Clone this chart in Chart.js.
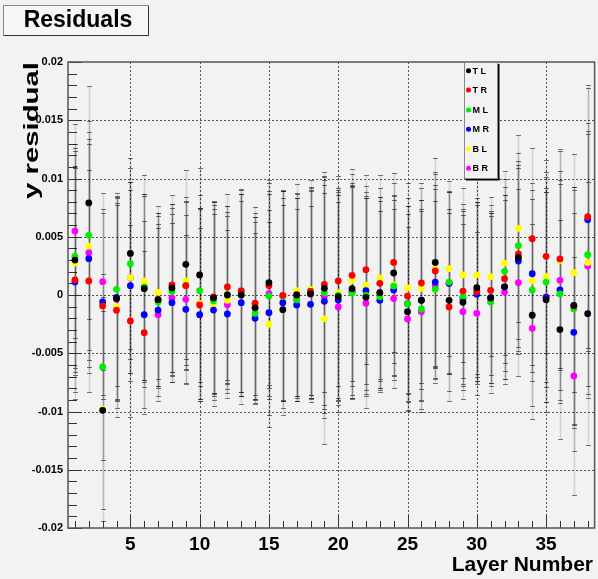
<!DOCTYPE html>
<html>
<head>
<meta charset="utf-8">
<script src="https://cdn.jsdelivr.net/npm/chart.js@4"></script>
<style>
  html, body { margin: 0; padding: 0; background: #f2f2f2; }
  #wrap { width: 598px; height: 579px; }
</style>
</head>
<body>
<div id="wrap"><canvas id="residChart" width="598" height="579"></canvas></div>
<script>
// layer numbers (x)
const layers = [1,2,3,4,5,6,7,8,9,10,11,12,13,14,15,16,17,18,19,20,21,22,23,24,25,26,27,28,29,30,31,32,33,34,35,36,37,38];

const seriesNames = ['T L', 'T R', 'M L', 'M R', 'B L', 'B R'];
const seriesColors = ['#000000', '#ff0000', '#00ee00', '#0000ff', '#ffff00', '#ff00ff'];

// y residuals, in units of 1e-3
const resTL = [3.0, 7.9, -9.9, -0.3, 3.57, 0.54, -0.4, 0.6, 2.63, 1.72, -0.25, 0.0, 0.0, -1.1, 1.06, -1.26, 0.0, 0.1, 0.57, -0.14, 0.54, -0.2, 0.2, 1.89, -1.43, -0.45, 2.8, -0.46, -0.63, 0.63, -0.25, 0.7, 3.2, -1.74, -0.4, -2.97, -0.9, -1.6];
const resTR = [1.29, 1.2, -0.94, -1.31, -2.23, -3.23, -0.37, 0.86, 0.8, -0.86, -0.17, 0.69, 0.35, -0.71, 0.8, -0.03, 0.03, 0.3, 0.91, 1.2, 1.69, 2.17, 1.0, 2.8, -0.09, 1.03, 2.06, -1.03, 0.34, 0.3, 0.4, 1.4, 3.52, 4.83, 3.32, 3.1, -0.94, 6.72];
const resML = [3.32, 5.12, -6.17, 0.49, 2.69, 0.7, -0.6, 0.29, 0.83, 0.37, -0.51, 0.03, 0.37, -1.57, -0.09, -0.1, -0.4, 0.34, 0.2, -0.03, 0.17, -0.03, -0.14, 0.77, -0.75, -1.2, 0.49, 1.11, -0.14, 0.29, -0.6, 2.03, 4.23, 0.43, 1.11, 0.09, -1.2, 3.46];
const resMR = [1.11, 3.12, -0.6, -0.2, 0.8, -1.69, -1.29, -0.66, -1.23, -1.69, -1.29, -1.63, -0.66, -2.0, -1.52, -0.66, -0.86, -0.8, -0.54, -0.43, 0.3, 0.37, -0.46, 0.43, -0.74, -0.46, 1.11, 1.0, -0.29, 0.06, -0.23, 0.69, 2.92, 1.83, -0.2, 0.43, -3.2, 6.46];
const resBL = [2.74, 4.2, -9.8, -1.0, 1.5, 1.2, 0.23, 0.57, 1.2, -0.7, -0.8, -0.46, 0.0, -0.75, -2.51, -0.1, 0.37, 0.49, -2.03, 0.17, 1.26, 0.86, 1.46, 0.86, 0.6, 0.57, 2.23, 2.26, 1.72, 1.72, 1.57, 2.74, 5.72, 1.2, 1.57, 2.97, 1.91, 2.8];
const resBR = [5.49, 3.63, 1.14, -0.37, 1.49, 0.69, -1.69, -0.26, -0.37, -0.71, -0.26, -0.83, 0.0, -1.11, 0.11, -0.09, -0.4, 0.06, -0.14, -1.03, 0.29, -0.71, 0.2, -0.31, -2.06, -1.43, 0.77, 1.0, -1.43, -1.57, -0.55, 0.23, 1.06, -2.86, -0.17, 1.26, -6.95, 2.49];

// errors on the residuals, same units
const errTL = [9.6, 10.0, 8.5, 8.7, 8.2, 8.0, 7.4, 7.2, 8.1, 9.2, 8.2, 7.6, 8.7, 7.8, 8.8, 9.0, 8.7, 8.9, 10.0, 9.0, 9.1, 8.5, 8.2, 7.7, 8.4, 8.6, 9.0, 7.8, 7.5, 7.7, 7.3, 7.9, 8.0, 7.8, 9.6, 9.4, 10.2, 11.3];
const errTR = [9.6, 9.5, 8.0, 9.2, 8.2, 7.0, 7.4, 7.7, 7.2, 8.2, 8.2, 8.0, 8.7, 8.3, 8.8, 9.0, 8.7, 8.9, 9.2, 9.0, 9.1, 8.1, 8.2, 7.7, 8.4, 8.6, 8.3, 8.1, 7.5, 7.7, 7.3, 7.9, 8.0, 7.8, 8.3, 9.4, 10.2, 11.3];
const errML = [9.6, 9.8, 8.0, 8.3, 8.2, 8.0, 7.4, 7.2, 7.2, 8.2, 8.2, 7.6, 8.7, 7.8, 8.8, 9.0, 8.7, 8.9, 10.0, 9.0, 9.1, 8.5, 8.2, 7.7, 8.4, 8.6, 7.6, 7.8, 7.5, 7.7, 7.8, 7.9, 8.0, 7.8, 9.0, 9.4, 10.2, 11.3];
const errMR = [10.0, 9.8, 8.0, 8.7, 8.2, 8.0, 7.4, 6.8, 6.4, 7.4, 8.2, 7.2, 8.7, 7.3, 8.8, 9.0, 8.2, 8.4, 10.0, 9.0, 9.1, 8.5, 7.7, 7.7, 8.4, 8.6, 8.3, 7.8, 7.5, 7.7, 7.3, 7.9, 8.0, 7.8, 9.0, 9.4, 10.2, 11.3];
const errBL = [9.6, 9.8, 9.6, 8.7, 8.2, 9.1, 7.4, 7.2, 7.2, 8.2, 8.2, 7.6, 8.7, 7.8, 8.8, 9.0, 9.2, 9.4, 10.8, 9.0, 9.1, 8.5, 8.8, 7.7, 9.0, 8.6, 8.3, 7.5, 7.5, 8.5, 6.8, 7.9, 8.0, 7.8, 9.0, 9.4, 10.2, 11.3];
const errBR = [9.2, 9.8, 7.6, 8.7, 8.2, 8.0, 7.4, 7.2, 7.2, 8.2, 8.2, 7.6, 8.7, 7.8, 8.8, 9.0, 8.7, 8.9, 10.0, 9.0, 9.1, 9.0, 8.2, 7.7, 7.9, 8.6, 8.3, 7.8, 7.5, 7.0, 7.3, 7.9, 8.0, 7.8, 9.0, 9.4, 10.2, 11.3];

// axis labels
const xTickLabels = [5, 10, 15, 20, 25, 30, 35];
const yTickValues = [-20, -15, -10, -5, 0, 5, 10, 15, 20];
const yTickLabels = ['-0.02', '-0.015', '-0.01', '-0.005', '0', '0.005', '0.01', '0.015', '0.02'];

const allRes = [resTL, resTR, resML, resMR, resBL, resBR];
const allErr = [errTL, errTR, errML, errMR, errBL, errBR];

const FONT = '"Liberation Sans", Arial, Helvetica, sans-serif';

// ROOT-ish frame, grid, ticks, error bars, legend and titles
const rootStyle = {
  id: 'rootStyle',
  beforeDraw(chart) {
    const ctx = chart.ctx;
    ctx.save();
    ctx.fillStyle = '#f2f2f2';
    ctx.fillRect(0, 0, chart.width, chart.height);
    ctx.restore();
  },
  beforeDatasetsDraw(chart) {
    const ctx = chart.ctx;
    const a = chart.chartArea;
    const xs = chart.scales.x, ys = chart.scales.y;
    ctx.save();

    // dotted grid
    ctx.strokeStyle = '#555';
    ctx.lineWidth = 1;
    ctx.setLineDash([2, 2]);
    xTickLabels.forEach(v => {
      const px = Math.round(xs.getPixelForValue(v)) + 0.5;
      ctx.beginPath(); ctx.moveTo(px, a.top); ctx.lineTo(px, a.bottom); ctx.stroke();
    });
    yTickValues.forEach(v => {
      if (v === 20 || v === -20) return;
      const py = Math.round(ys.getPixelForValue(v)) + 0.5;
      ctx.beginPath(); ctx.moveTo(a.left, py); ctx.lineTo(a.right, py); ctx.stroke();
    });
    ctx.setLineDash([]);

    // ticks on x (inside, bottom)
    ctx.strokeStyle = '#333';
    layers.forEach(v => {
      const px = Math.round(xs.getPixelForValue(v)) + 0.5;
      const len = v % 5 === 0 ? 13 : 7;
      ctx.beginPath(); ctx.moveTo(px, a.bottom); ctx.lineTo(px, a.bottom - len); ctx.stroke();
    });
    // ticks on y (inside, left)
    for (let v = -20; v <= 20; v++) {
      const py = Math.round(ys.getPixelForValue(v)) + 0.5;
      const len = v % 5 === 0 ? 14 : 9;
      ctx.beginPath(); ctx.moveTo(a.left, py); ctx.lineTo(a.left + len, py); ctx.stroke();
    }

    // error bars
    ctx.beginPath();
    ctx.rect(a.left, a.top, a.right - a.left, a.bottom - a.top);
    ctx.clip();
    allRes.forEach((res, i) => {
      const err = allErr[i];
      res.forEach((v, j) => {
        const px = Math.round(xs.getPixelForValue(layers[j])) + 0.5;
        const yTop = ys.getPixelForValue(v + err[j]);
        const yBot = ys.getPixelForValue(v - err[j]);
        ctx.strokeStyle = 'rgba(0,0,0,0.13)';
        ctx.lineWidth = 1.6;
        ctx.beginPath(); ctx.moveTo(px, yTop); ctx.lineTo(px, yBot); ctx.stroke();
        ctx.strokeStyle = 'rgba(30,30,30,0.6)';
        ctx.lineWidth = 1;
        ctx.beginPath();
        ctx.moveTo(px - 2.5, Math.round(yTop) + 0.5); ctx.lineTo(px + 2.5, Math.round(yTop) + 0.5);
        ctx.moveTo(px - 2.5, Math.round(yBot) + 0.5); ctx.lineTo(px + 2.5, Math.round(yBot) + 0.5);
        ctx.stroke();
      });
    });
    ctx.restore();
  },
  afterDatasetsDraw(chart) {
    const ctx = chart.ctx;
    const a = chart.chartArea;
    const xs = chart.scales.x, ys = chart.scales.y;
    ctx.save();

    // frame
    ctx.strokeStyle = '#555';
    ctx.lineWidth = 1.5;
    ctx.strokeRect(a.left, a.top, a.right - a.left, a.bottom - a.top);

    // y tick labels
    ctx.fillStyle = '#000';
    ctx.font = 'bold 11px ' + FONT;
    ctx.textAlign = 'right';
    ctx.textBaseline = 'middle';
    yTickValues.forEach((v, k) => {
      ctx.fillText(yTickLabels[k], a.left - 5, ys.getPixelForValue(v));
    });

    // x tick labels
    ctx.font = 'bold 19px ' + FONT;
    ctx.textAlign = 'center';
    ctx.textBaseline = 'alphabetic';
    xTickLabels.forEach(v => {
      ctx.fillText(String(v), xs.getPixelForValue(v), a.bottom + 22);
    });

    // x title
    ctx.font = 'bold 21px ' + FONT;
    ctx.textAlign = 'right';
    ctx.fillText('Layer Number', 593, 571);

    // y title (rotated, stretched along its length like the original)
    ctx.save();
    ctx.font = 'bold 20px ' + FONT;
    const tw = ctx.measureText('y residual').width;
    ctx.translate(38, a.top);
    ctx.rotate(-Math.PI / 2);
    ctx.scale(137 / tw, 1);
    ctx.textAlign = 'right';
    ctx.fillText('y residual', 0, 0);
    ctx.restore();

    // title box
    ctx.fillStyle = '#f6f6f6';
    ctx.fillRect(3, 5, 145, 30);
    ctx.strokeStyle = '#888';
    ctx.lineWidth = 1;
    ctx.strokeRect(3.5, 5.5, 145, 30);
    ctx.strokeStyle = '#333';
    ctx.beginPath(); ctx.moveTo(148.5, 6); ctx.lineTo(148.5, 35.5); ctx.lineTo(4, 35.5); ctx.stroke();
    ctx.fillStyle = '#000';
    ctx.font = 'bold 23px ' + FONT;
    ctx.textAlign = 'center';
    ctx.textBaseline = 'middle';
    ctx.fillText('Residuals', 78, 21);

    // legend box
    const lx = 464, ly = 62, lw = 33, lh = 116;
    ctx.fillStyle = '#000';
    ctx.fillRect(lx + lw, ly + 2, 2.5, lh);
    ctx.fillRect(lx + 2, ly + lh, lw + 0.5, 2.5);
    ctx.fillStyle = '#f2f2f2';
    ctx.fillRect(lx, ly, lw, lh);
    ctx.strokeStyle = '#888';
    ctx.lineWidth = 1;
    ctx.strokeRect(lx + 0.5, ly + 0.5, lw, lh);
    const rowY = [70.7, 90, 110, 129.3, 148.7, 168.3];
    ctx.font = 'bold 9px ' + FONT;
    ctx.textAlign = 'left';
    ctx.textBaseline = 'middle';
    seriesNames.forEach((name, i) => {
      ctx.fillStyle = seriesColors[i];
      ctx.beginPath(); ctx.arc(468.5, rowY[i], 2.5, 0, Math.PI * 2); ctx.fill();
      ctx.fillStyle = '#000';
      ctx.fillText(name, 472.5, rowY[i] + 0.5);
    });

    ctx.restore();
  }
};

const datasets = allRes.map((res, i) => ({
  label: seriesNames[i],
  data: res.map((v, j) => ({ x: layers[j], y: v })),
  backgroundColor: seriesColors[i],
  borderWidth: 0,
  pointRadius: 3.4,
  pointHoverRadius: 3.4
}));

new Chart(document.getElementById('residChart').getContext('2d'), {
  type: 'scatter',
  data: { datasets },
  options: {
    responsive: false,
    animation: false,
    devicePixelRatio: 1,
    layout: { padding: { left: 68, right: 2, top: 62, bottom: 51 } },
    plugins: { legend: { display: false }, tooltip: { enabled: false } },
    scales: {
      x: { type: 'linear', min: 0.5, max: 38.5, display: false },
      y: { type: 'linear', min: -20, max: 20, display: false }
    }
  },
  plugins: [rootStyle]
});
</script>
</body>
</html>
